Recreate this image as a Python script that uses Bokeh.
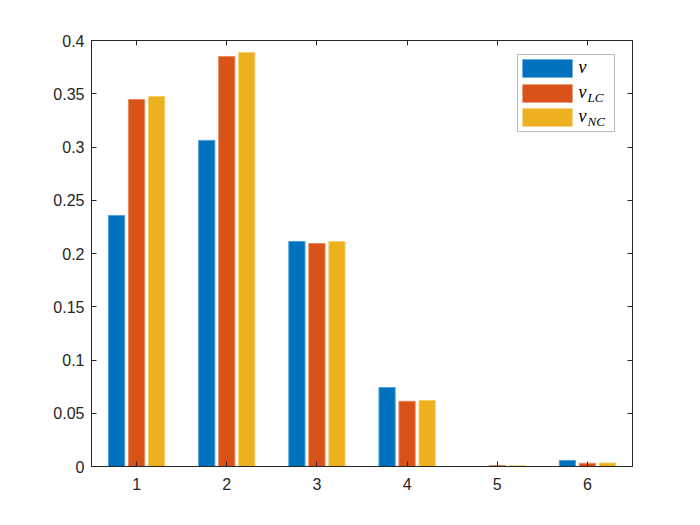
from bokeh.plotting import figure
from bokeh.models import ColumnDataSource, LinearAxis, FixedTicker, Range1d, Label, BoxAnnotation
from bokeh.transform import dodge
from bokeh.embed import file_html
from bokeh.resources import INLINE

categories = [1, 2, 3, 4, 5, 6]
v = [0.2357, 0.3062, 0.2113, 0.0742, 0.0, 0.0056]
v_LC = [0.3446, 0.3850, 0.2094, 0.0612, 0.0009, 0.0030]
v_NC = [0.3474, 0.3887, 0.2113, 0.0620, 0.0006, 0.0033]
y_ticks = [0, 0.05, 0.1, 0.15, 0.2, 0.25, 0.3, 0.35, 0.4]
y_tick_labels = ["0", "0.05", "0.1", "0.15", "0.2", "0.25", "0.3", "0.35", "0.4"]

colors = ["#0072BD", "#D95319", "#EDB120"]
edges = ["#4DA3DA", "#E8875E", "#F4CD6E"]
axc = "#262626"

src = ColumnDataSource(dict(x=categories, v=v, v_LC=v_LC, v_NC=v_NC))

p = figure(width=684, height=509, output_backend="svg", toolbar_location=None,
           x_range=Range1d(0.5, 6.5), y_range=Range1d(0, 0.4),
           min_border_left=91, min_border_right=52, min_border_top=40, min_border_bottom=43,
           background_fill_color="white", border_fill_color="white")
p.grid.visible = False
p.outline_line_color = axc
p.outline_line_width = 1

for i, (col, off) in enumerate(zip(["v", "v_LC", "v_NC"], [-0.222, 0.0, 0.222])):
    p.vbar(x=dodge("x", off), top=col, width=0.18, source=src,
           fill_color=colors[i], line_color=edges[i], line_width=1)

def style_axis(ax, labels=True):
    ax.axis_line_color = axc
    ax.major_tick_line_color = axc
    ax.major_tick_in = 5
    ax.major_tick_out = 0
    ax.minor_tick_line_color = None
    ax.major_label_text_color = axc
    ax.major_label_text_font = "Liberation Sans"
    ax.major_label_text_font_size = "16px"
    if not labels:
        ax.major_label_text_alpha = 0
        ax.major_label_text_font_size = "1px"

xt = FixedTicker(ticks=categories)
yt = FixedTicker(ticks=y_ticks)
p.xaxis.ticker = xt
p.xaxis.major_label_overrides = {c: str(c) for c in categories}
p.xaxis.major_label_standoff = 11
p.yaxis.ticker = yt
p.yaxis.major_label_overrides = {t: l for t, l in zip(y_ticks, y_tick_labels)}
p.yaxis.major_label_standoff = 7
style_axis(p.xaxis[0])
style_axis(p.yaxis[0])

top = LinearAxis(ticker=FixedTicker(ticks=categories))
right = LinearAxis(ticker=FixedTicker(ticks=y_ticks))
style_axis(top, labels=False)
style_axis(right, labels=False)
p.add_layout(top, "above")
p.add_layout(right, "right")

# legend (screen units, frame-relative)
p.add_layout(BoxAnnotation(left=426, right=523, bottom=335, top=412,
                           left_units="screen", right_units="screen",
                           top_units="screen", bottom_units="screen",
                           fill_color="white", fill_alpha=1, line_color=axc, line_width=1))
names = ["v", "v", "v"]
subs = ["", "LC", "NC"]
centers = [398, 373, 349]
for i in range(3):
    p.add_layout(BoxAnnotation(left=431, right=481, bottom=centers[i] - 9, top=centers[i] + 9,
                               left_units="screen", right_units="screen",
                               top_units="screen", bottom_units="screen",
                               fill_color=colors[i], fill_alpha=1, line_color=edges[i]))
    p.add_layout(Label(x=487, y=centers[i] + 2, x_units="screen", y_units="screen", text=names[i],
                       text_font="Liberation Serif", text_font_style="italic",
                       text_font_size="18px", text_baseline="middle", text_color="black"))
    if subs[i]:
        p.add_layout(Label(x=496, y=centers[i] - 4, x_units="screen", y_units="screen", text=subs[i],
                           text_font="Liberation Serif", text_font_style="italic",
                           text_font_size="13px", text_baseline="middle", text_color="black"))

open("out.html", "w").write(file_html(p, INLINE))
